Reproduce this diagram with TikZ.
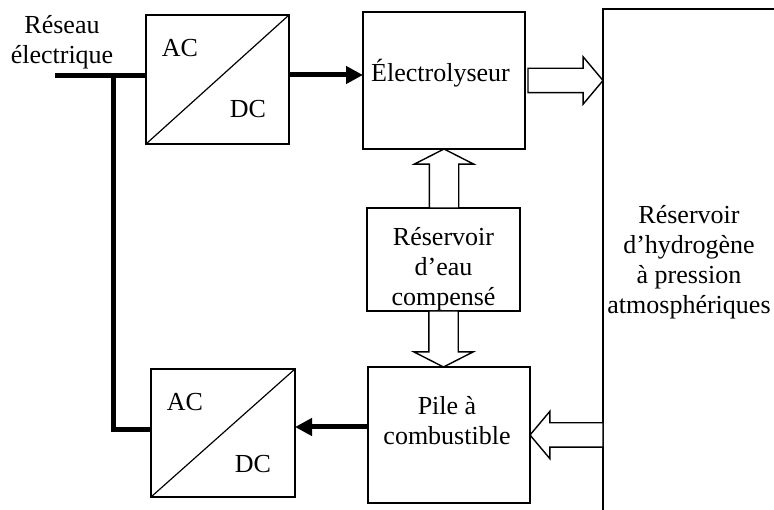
\documentclass[tikz,border=0pt]{standalone}
\usepackage{fontspec}
\setmainfont{Liberation Serif}
\usetikzlibrary{arrows.meta,positioning,calc,shapes.arrows}

\tikzset{
  box/.style={draw,line width=1.6pt,inner sep=0pt,outer sep=0pt},
  lbl/.style={font=\fontsize{26}{30}\selectfont,inner sep=0pt,align=center},
  bus/.style={line width=5pt},
  power/.style={line width=5pt,-{Triangle[length=17pt,width=17pt]}},
  hollowh/.style={single arrow,draw,fill=white,line width=1.4pt,inner sep=11.5pt,
    outer sep=0pt,single arrow head extend=11.5pt,single arrow tip angle=100},
  hollowv/.style={single arrow,draw,fill=white,line width=1.4pt,inner sep=14pt,
    outer sep=0pt,single arrow head extend=15pt,single arrow tip angle=126}
}

\begin{document}
\begin{tikzpicture}[x=1pt,y=-1pt]
  \useasboundingbox (0,0) rectangle (774,510);
  \clip (0,0) rectangle (774,510);

  % blocs
  \node[box,minimum width=143pt,minimum height=129pt] (convTop) at (217.5,79.5) {};
  \node[box,minimum width=162pt,minimum height=137pt] (elec) at (444,80.5) {};
  \node[box,minimum width=153pt,minimum height=103pt] (eau) at (443.5,259.5) {};
  \node[box,minimum width=162pt,minimum height=136pt] (pile) at (449,435) {};
  \node[box,minimum width=144pt,minimum height=128pt] (convBot) at (223,433) {};
  \node[box,anchor=north west,minimum width=250pt,minimum height=560pt] (tank) at (603,9) {};
  \draw[line width=1.2pt] (convTop.south west) -- (convTop.north east);
  \draw[line width=1.2pt] (convBot.south west) -- (convBot.north east);

  % textes
  \node[lbl] (reseau) at (62,42) {Réseau\\électrique};
  \node[lbl,anchor=base] (acTop) at (180,57) {AC};
  \node[lbl,anchor=base] (dcTop) at (248,118) {DC};
  \node[lbl,anchor=base] (acBot) at (185,411) {AC};
  \node[lbl,anchor=base] (dcBot) at (253,472) {DC};
  \node[lbl,anchor=base] (elecTxt) at (440.5,82) {Électrolyseur};
  \node[lbl] (eauTxt) at (443.5,269) {Réservoir\\d’eau\\compensé};
  \node[lbl] (pileTxt) at (447,421) {Pile à\\combustible};
  \node[lbl] (tankTxt) at (689,262) {Réservoir\\d’hydrogène\\à pression\\atmosphériques};

  % réseau
  \coordinate (gridEnd) at (55,76);
  \coordinate (gridTap) at (113,76);
  \draw[bus] (gridEnd) -- (gridEnd -| convTop.west);
  \draw[bus] (gridTap) |- ([yshift=3pt]convBot.west);

  % flux electriques
  \draw[power] ([yshift=4.5pt]convTop.east) -- ([yshift=4.5pt]convTop.east -| elec.west);
  \draw[power] ([yshift=8pt]pile.west) -- ([yshift=8pt]pile.west -| convBot.east);

  % flux de matiere
  \node[hollowh,minimum height=75pt,anchor=tip] (h2In) at (tank.west |- elec.east) {};
  \node[hollowh,minimum height=73pt,anchor=tip,rotate=180] (h2Out) at (pile.east) {};
  \node[hollowv,minimum height=59pt,anchor=tip,rotate=90] (eauUp) at (elec.south) {};
  \node[hollowv,minimum height=56pt,anchor=tail,rotate=-90] (eauDown) at (eau.south) {};
\end{tikzpicture}
\end{document}
